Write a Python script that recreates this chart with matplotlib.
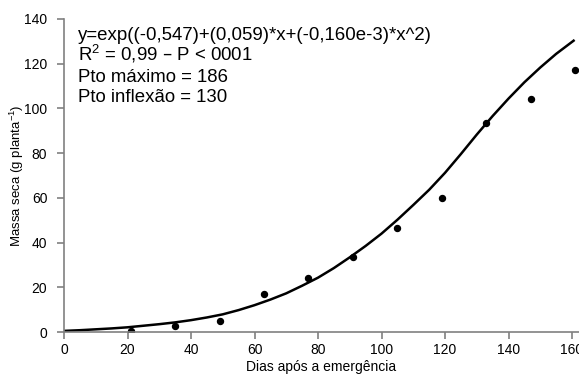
import numpy as np
import matplotlib.pyplot as plt

plt.rcParams['font.family'] = ['Liberation Sans', 'DejaVu Sans']
plt.rcParams['mathtext.default'] = 'regular'

# observed points (days after emergence, dry mass)
dias = [21, 35, 49, 63, 77, 91, 105, 119, 133, 147, 161]
massa = [0.6, 2.7, 5.1, 16.9, 24.0, 33.7, 46.4, 59.8, 93.3, 104.2, 117.2]

# fitted curve, every 5 days
curva_x = [0, 5, 10, 15, 20, 25, 30, 35, 40, 45, 50, 55, 60, 65, 70, 75, 80,
           85, 90, 95, 100, 105, 110, 115, 120, 125, 130, 135, 140, 145, 150, 155, 160.5]
curva_y = [0.5, 0.8, 1.2, 1.6, 2.1, 2.8, 3.5, 4.3, 5.3, 6.5, 7.9, 9.8, 12.0, 14.5, 17.3, 20.7, 24.3,
           28.6, 33.4, 38.5, 44.0, 50.2, 56.8, 63.6, 71.2, 79.6, 88.3, 96.6, 104.4, 111.7, 118.3, 124.4, 130.3]

texto = ["y=exp((-0,547)+(0,059)*x+(-0,160e-3)*x^2)",
         "R$^{2}$ = 0,99 \u2013 P < 0001",
         "Pto máximo = 186",
         "Pto inflexão = 130"]

W, H = 579, 374
fig = plt.figure(figsize=(W / 100, H / 100), dpi=100)
ax = fig.add_axes([64 / W, 1 - 332 / H, (W - 64) / W, (332 - 19) / H])

ax.plot(curva_x, curva_y, color='black', lw=1.8, solid_joinstyle='round')
ax.plot(dias, massa, 'o', color='black', ms=4.3)

ax.set_xlim(0, 162.2)
ax.set_ylim(0, 140)
ax.set_xticks(range(0, 161, 20))
ax.set_yticks(range(0, 141, 20))
for s in ['top', 'right']:
    ax.spines[s].set_visible(False)
for s in ['left', 'bottom']:
    ax.spines[s].set_color('#808080')
    ax.spines[s].set_linewidth(1.2)
ax.tick_params(colors='#808080', length=5, width=1.2, labelcolor='black', labelsize=10)
ax.tick_params(axis='y', pad=7)
ax.tick_params(axis='x', pad=3)

ax.set_ylabel('Massa seca (g planta$^{-1}$)', fontsize=9.5)
ax.yaxis.set_label_coords(-0.074, 0.5)
ax.set_xlabel('Dias após a emergência', fontsize=10, labelpad=2)

for t, yp in zip(texto, [35, 54, 77, 97]):
    fig.text(78 / W, 1 - yp / H, t, fontsize=13.4, va='center', ha='left')

fig.savefig('out.png', dpi=100)
